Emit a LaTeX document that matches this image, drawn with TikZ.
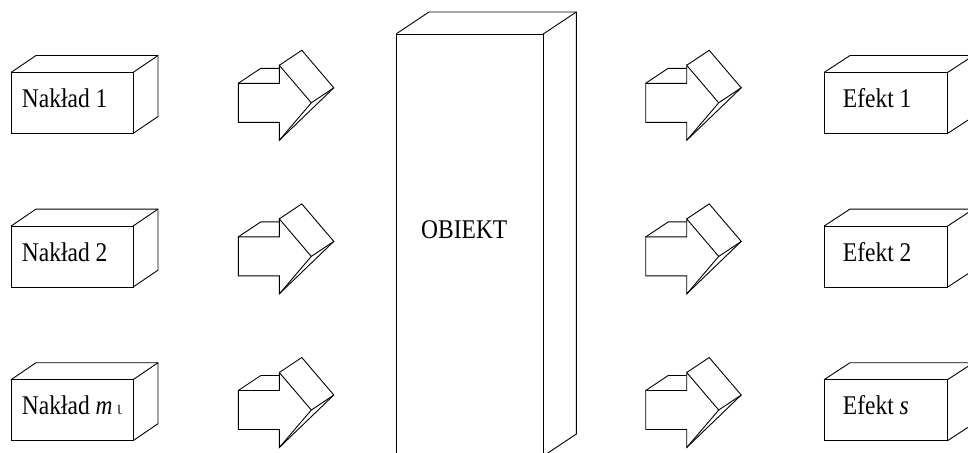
\documentclass[tikz,border=0pt]{standalone}
\usepackage{fontspec}
\usepackage{graphicx}
\setmainfont{Liberation Serif}
\usetikzlibrary{calc}
\tikzset{
  edge/.style={draw=black, line width=0.9pt, line join=miter},
  boxface/.style={edge, rectangle, fill=white, inner sep=0pt, outer sep=0pt},
  lbl/.style={anchor=base west, inner sep=0pt, font=\fontsize{23.5}{28}\selectfont},
}
\newcommand{\tall}[1]{\scalebox{1}[1.15]{#1}}
% name, x, y (top-left in px), width, height, dx, dy (depth offset)
\newcommand{\mycuboid}[7]{%
  \node[boxface, minimum width=#4pt, minimum height=#5pt, anchor=north west] (#1) at (#2,#3) {};
  \draw[edge] (#1.north west) -- ($(#1.north west)+(#6,#7)$) -- ($(#1.north east)+(#6,#7)$)
     -- ($(#1.south east)+(#6,#7)$) -- (#1.south east);
  \draw[edge] (#1.north east) -- ($(#1.north east)+(#6,#7)$);
}
% 3D block arrow; #1 = x, #2 = y of tail top-left corner
\newcommand{\myarrow}[2]{%
  \begin{scope}[shift={(#1,#2)}]
    \draw[edge] (0,0) -- (41,0) -- (41,-18) -- (73,19.5) -- (41,57) -- (41,39) -- (0,39) -- cycle;
    \draw[edge] (0,0) -- (22.5,-15) -- (41,-15);
    \draw[edge] (41,-18) -- (63.5,-33) -- (95.5,4.5) -- (73,19.5);
    \draw[edge] (41,57) -- (95.5,4.5);
  \end{scope}
}
\begin{document}
\begin{tikzpicture}[x=1pt, y=-1pt]
  \useasboundingbox (0,0) rectangle (968,452);
  \clip (0,0) rectangle (968,452);
  \fill[white] (0,0) rectangle (968,452);

  % inputs
  \mycuboid{in1}{11}{72.5}{122}{61}{25}{-17}
  \mycuboid{in2}{11}{226.1}{122}{61}{25}{-17}
  \mycuboid{in3}{11}{379.7}{122}{61}{25}{-17}
  \node[lbl] (tin1) at (21.7,107.5) {\tall{Nakład 1}};
  \node[lbl] (tin2) at (21.7,261.1) {\tall{Nakład 2}};
  \node[lbl] (tin3) at (21.7,414.7) {\tall{Nakład \textit{m}}\hspace{4pt}{\color{black!70}\fontsize{20}{20}\selectfont ι}};

  % left arrows
  \myarrow{238.3}{83.3}
  \myarrow{238.3}{236.9}
  \myarrow{238.3}{390.5}

  % object
  \mycuboid{obj}{396}{34}{147.3}{422}{33}{-22}
  \node[lbl] (tobj) at (421,238.3) {\tall{OBIEKT}};

  % right arrows
  \myarrow{645.7}{83.3}
  \myarrow{645.7}{236.9}
  \myarrow{645.7}{390.5}

  % outputs
  \mycuboid{out1}{824}{72.5}{123.5}{61}{26}{-17}
  \mycuboid{out2}{824}{226.1}{123.5}{61}{26}{-17}
  \mycuboid{out3}{824}{379.7}{123.5}{61}{26}{-17}
  \node[lbl] (tout1) at (842.7,107.5) {\tall{Efekt 1}};
  \node[lbl] (tout2) at (842.7,261.1) {\tall{Efekt 2}};
  \node[lbl] (tout3) at (842.7,414.7) {\tall{Efekt \textit{s}}};
\end{tikzpicture}
\end{document}
